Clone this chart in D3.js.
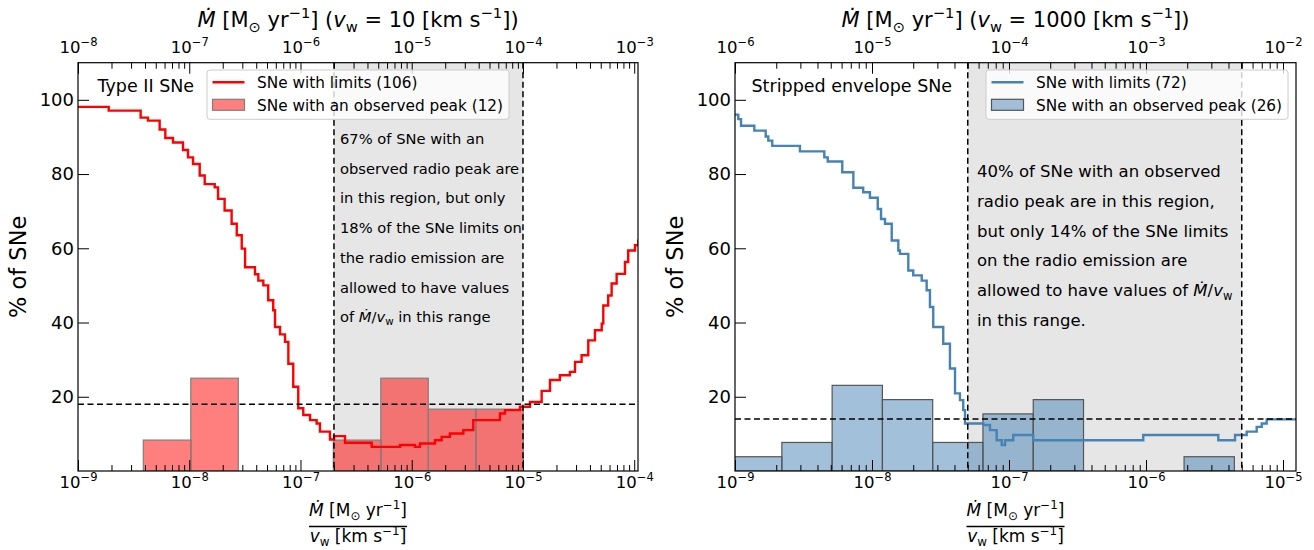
<!DOCTYPE html>
<html>
<head>
<meta charset="utf-8">
<script src="https://cdn.jsdelivr.net/npm/d3@7"></script>
<style>
  body { margin: 0; background: #fff; }
  svg { display: block; font-family: "DejaVu Sans", sans-serif; }
</style>
</head>
<body>
<svg id="chart" width="1314" height="550"></svg>
<script>
// Type II SNe: cumulative % of limits vs log10(Mdot/vw)
const typeIILimitsLogX = [-9.0, -8.724, -8.437, -8.371, -8.266, -8.215, -8.146, -8.056, -8.011, -7.966, -7.906, -7.861, -7.771, -7.741, -7.682, -7.619, -7.573, -7.528, -7.498, -7.409, -7.379, -7.334, -7.29, -7.245, -7.229, -7.184, -7.139, -7.109, -7.065, -7.02, -6.975, -6.914, -6.855, -6.825, -6.735, -6.698, -6.6, -6.36, -6.105, -5.971, -5.926, -5.791, -5.731, -5.657, -5.536, -5.447, -5.207, -5.162, -5.027, -4.937, -4.832, -4.757, -4.668, -4.578, -4.532, -4.473, -4.413, -4.353, -4.292, -4.278, -4.234, -4.203, -4.158, -4.083, -4.054, -3.993, -3.963]
const typeIILimitsPct = [98.1, 97.1, 95.2, 94.4, 92.0, 89.7, 88.5, 86.5, 84.5, 82.7, 79.6, 77.3, 76.4, 73.3, 70.2, 66.6, 63.5, 59.9, 54.9, 53.0, 51.3, 50.0, 46.0, 43.3, 38.8, 36.8, 34.8, 28.9, 22.7, 16.9, 15.1, 13.7, 12.8, 10.6, 8.5, 9.4, 7.6, 6.5, 7.0, 6.5, 7.4, 8.3, 9.2, 10.1, 11.0, 13.7, 15.5, 16.4, 17.3, 18.6, 21.6, 24.5, 25.8, 26.7, 29.4, 31.2, 35.2, 37.9, 39.7, 44.6, 47.3, 50.5, 53.1, 56.3, 59.4, 60.8, 62.4]
// Type II SNe with an observed peak: histogram (log10 bin edges, counts)
const typeIIPeakEdges = [-8.413, -7.986, -7.559, -7.132, -6.705, -6.278, -5.851, -5.424, -4.997]
const typeIIPeakCounts = [1, 3, 0, 0, 1, 3, 2, 2]
const typeIIPeakTotal = 12

// Stripped envelope SNe
const seLimitsLogX = [-9.0, -8.976, -8.956, -8.859, -8.776, -8.757, -8.728, -8.526, -8.348, -8.323, -8.217, -8.136, -8.064, -8.015, -7.958, -7.934, -7.905, -7.856, -7.808, -7.796, -7.735, -7.699, -7.637, -7.601, -7.577, -7.553, -7.48, -7.431, -7.394, -7.358, -7.334, -7.321, -7.188, -7.139, -7.09, -7.053, -7.029, -6.969, -6.823, -6.02, -5.472, -5.35, -5.265, -5.192, -5.155, -5.119, -4.905]
const seLimitsPct = [96.0, 94.8, 93.0, 91.7, 90.1, 89.0, 87.6, 86.1, 84.5, 83.4, 80.5, 76.3, 75.1, 73.6, 70.6, 67.9, 66.6, 62.1, 59.4, 58.5, 54.0, 52.7, 51.3, 48.7, 44.2, 38.8, 34.3, 27.6, 20.9, 19.1, 16.4, 12.8, 12.4, 11.0, 8.3, 7.0, 8.3, 9.7, 8.3, 9.7, 8.3, 9.7, 10.6, 11.9, 12.8, 13.9, 13.9]
const sePeakEdges = [-9.025, -8.658, -8.291, -7.924, -7.557, -7.19, -6.823, -6.456, -6.089, -5.722, -5.355]
const sePeakCounts = [1, 2, 6, 5, 2, 4, 5, 0, 0, 1]
const sePeakTotal = 26

const svg = d3.select("#chart")
const TOP = 62.7, BOTTOM = 471

// text with italic / super / subscript pieces
const richText = (sel, segs, size) => {
  let cur = 0
  segs.forEach(s => {
    const target = s.k === "sup" ? -0.42 * size : s.k === "sub" ? 0.22 * size : 0
    const ts = sel.append("tspan").text(s.t).attr("dy", target - cur)
    cur = target
    if (s.k === "sup" || s.k === "sub") ts.attr("font-size", size * 0.7)
    if (s.i) ts.attr("font-style", "italic")
  })
}

const powLabel = (sel, v, size, yOff) => {
  const e = Math.round(Math.log10(v))
  sel.text(null).attr("dy", null).attr("y", yOff)
  richText(sel, [{t: "10"}, {t: "\u2212" + Math.abs(e), k: "sup"}], size)
}

const drawPanel = p => {
  const x = d3.scaleLog().domain([1e-9, p.xMax]).range([p.left, p.right])
  const xTop = d3.scaleLog().domain([1e-9 * p.factor, p.xMax * p.factor]).range([p.left, p.right])
  const y = d3.scaleLinear().domain([0, 110]).range([BOTTOM, TOP])
  const g = svg.append("g")

  g.append("clipPath").attr("id", "clip" + p.id)
    .append("rect").attr("x", p.left).attr("y", TOP)
    .attr("width", p.right - p.left).attr("height", BOTTOM - TOP)
  const plot = g.append("g").attr("clip-path", `url(#clip${p.id})`)

  // highlighted range
  plot.append("rect")
    .attr("x", x(p.band[0])).attr("width", x(p.band[1]) - x(p.band[0]))
    .attr("y", TOP).attr("height", BOTTOM - TOP)
    .attr("fill", "gray").attr("fill-opacity", 0.2)

  // histogram of observed peaks
  const bins = p.counts.map((c, i) => ({x0: p.edges[i], x1: p.edges[i + 1], pct: c / p.total * 100}))
    .filter(b => b.pct > 0)
  plot.selectAll(".bar").data(bins).enter().append("rect")
    .attr("x", d => x(10 ** d.x0))
    .attr("width", d => x(10 ** d.x1) - x(10 ** d.x0))
    .attr("y", d => y(d.pct))
    .attr("height", d => y(0) - y(d.pct))
    .attr("fill", p.color).attr("fill-opacity", 0.5)
    .attr("stroke", p.barEdge).attr("stroke-width", 1.2)

  // cumulative limits curve
  const pts = p.curveX.map((v, i) => [v, p.curveY[i]])
  const line = d3.line().x(d => x(10 ** d[0])).y(d => y(d[1])).curve(d3.curveStepAfter)
  plot.append("path").datum(pts).attr("d", line)
    .attr("fill", "none").attr("stroke", p.color).attr("stroke-width", 2.4)

  // dashed reference lines
  const dash = "6,3.5"
  p.band.forEach(v => {
    plot.append("line").attr("x1", x(v)).attr("x2", x(v)).attr("y1", TOP).attr("y2", BOTTOM)
      .attr("stroke", "#000").attr("stroke-width", 1.5).attr("stroke-dasharray", dash)
  })
  plot.append("line").attr("x1", p.left).attr("x2", p.right).attr("y1", y(p.hline)).attr("y2", y(p.hline))
    .attr("stroke", "#000").attr("stroke-width", 1.5).attr("stroke-dasharray", dash)

  // ticks
  const majorB = [], minorB = [], majorT = [], minorT = []
  for (let e = -10; e <= 0; e++) {
    for (let m = 1; m < 10; m++) {
      const v = m * 10 ** e
      const [lo, hi] = x.domain()
      if (v >= lo * 0.999 && v <= hi) (m === 1 ? majorB : minorB).push(v)
      const [tlo, thi] = xTop.domain()
      if (v >= tlo * 0.999 && v <= thi) (m === 1 ? majorT : minorT).push(v)
    }
  }
  const tickFont = 16.5
  const bAxis = g.append("g").attr("transform", `translate(0,${BOTTOM})`)
    .call(d3.axisBottom(x).tickValues(majorB).tickSize(-11).tickPadding(5))
  bAxis.selectAll(".tick text").each(function(d) { powLabel(d3.select(this), d, tickFont, 16.5) })
  g.append("g").attr("transform", `translate(0,${BOTTOM})`)
    .call(d3.axisBottom(x).tickValues(minorB).tickSize(-6).tickFormat(""))
  const tAxis = g.append("g").attr("transform", `translate(0,${TOP})`)
    .call(d3.axisTop(xTop).tickValues(majorT).tickSize(-11).tickPadding(10))
  tAxis.selectAll(".tick text").each(function(d) { powLabel(d3.select(this), d, tickFont, -9.5) })
  g.append("g").attr("transform", `translate(0,${TOP})`)
    .call(d3.axisTop(xTop).tickValues(minorT).tickSize(-6).tickFormat(""))
  g.append("g").attr("transform", `translate(${p.left},0)`)
    .call(d3.axisLeft(y).tickValues([20, 40, 60, 80, 100]).tickSize(-11).tickPadding(4))
    .selectAll(".tick text").attr("font-size", 18)
  g.selectAll(".domain").remove()
  g.selectAll(".tick line").attr("stroke", "#000").attr("stroke-width", 1)
  g.selectAll(".tick text").attr("fill", "#000").attr("font-family", "DejaVu Sans")
  bAxis.selectAll(".tick text").attr("font-size", tickFont)
  tAxis.selectAll(".tick text").attr("font-size", tickFont)

  // frame
  g.append("rect").attr("x", p.left).attr("y", TOP)
    .attr("width", p.right - p.left).attr("height", BOTTOM - TOP)
    .attr("fill", "none").attr("stroke", "#000").attr("stroke-width", 1.2)

  const cx = (p.left + p.right) / 2

  // top title
  const tt = g.append("text").attr("x", cx).attr("y", 27).attr("text-anchor", "middle").attr("font-size", 21)
  richText(tt, [{t: "\u1E40", i: true}, {t: " [M"}, {t: "\u2299", k: "sub"}, {t: " yr"}, {t: "\u22121", k: "sup"},
    {t: "] ("}, {t: "v", i: true}, {t: "w", k: "sub"}, {t: " = " + p.vw + " [km s"}, {t: "\u22121", k: "sup"}, {t: "])"}], 21)

  // bottom fraction label
  const num = g.append("text").attr("x", cx).attr("y", 516).attr("text-anchor", "middle").attr("font-size", 17)
  richText(num, [{t: "\u1E40", i: true}, {t: " [M"}, {t: "\u2299", k: "sub"}, {t: " yr"}, {t: "\u22121", k: "sup"}, {t: "]"}], 17)
  const den = g.append("text").attr("x", cx).attr("y", 542).attr("text-anchor", "middle").attr("font-size", 17)
  richText(den, [{t: "v", i: true}, {t: "w", k: "sub"}, {t: " [km s"}, {t: "\u22121", k: "sup"}, {t: "]"}], 17)
  const nb = num.node().getBBox(), db = den.node().getBBox()
  const fw = Math.max(nb.width, db.width)
  g.append("line").attr("x1", cx - fw / 2).attr("x2", cx + fw / 2).attr("y1", 526.5).attr("y2", 526.5)
    .attr("stroke", "#000").attr("stroke-width", 1.3)

  // y label
  g.append("text").attr("transform", `translate(${p.left - 52},${(TOP + BOTTOM) / 2}) rotate(-90)`)
    .attr("text-anchor", "middle").attr("font-size", 22.5).text("% of SNe")

  // panel title
  g.append("text").attr("x", p.left + p.titleDx).attr("y", 91.5).attr("font-size", 17.5).text(p.title)

  // annotation
  p.note.forEach((ln, i) => {
    const t = g.append("text").attr("x", p.noteX).attr("y", p.noteY + i * 29.7).attr("font-size", p.noteSize)
    richText(t, ln, p.noteSize)
  })

  // legend
  const lg = g.append("g").attr("transform", `translate(${p.legX},70)`)
  lg.append("rect").attr("width", 302).attr("height", 49.3).attr("rx", 3)
    .attr("fill", "#fff").attr("fill-opacity", 0.8).attr("stroke", "#cccccc").attr("stroke-width", 1)
  lg.append("line").attr("x1", 5.5).attr("x2", 37.5).attr("y1", 12.3).attr("y2", 12.3)
    .attr("stroke", p.color).attr("stroke-width", 2.4)
  lg.append("rect").attr("x", 5.5).attr("y", 29.3).attr("width", 32).attr("height", 11)
    .attr("fill", p.color).attr("fill-opacity", 0.5).attr("stroke", p.barEdge).attr("stroke-width", 1.2)
  lg.append("text").attr("x", 50).attr("y", 17.5).attr("font-size", 15.3).text(p.legLimits)
  lg.append("text").attr("x", 50).attr("y", 40.5).attr("font-size", 15.3).text(p.legPeak)
}

const mdv = [{t: "\u1E40", i: true}, {t: "/"}, {t: "v", i: true}, {t: "w", k: "sub"}]

drawPanel({
  id: "L", left: 78, right: 638, xMax: 10 ** -3.966, factor: 10, vw: 10,
  band: [2e-7, 1e-5], hline: 18, color: "#ff0000", barEdge: "#7f7f7f",
  curveX: typeIILimitsLogX, curveY: typeIILimitsPct,
  edges: typeIIPeakEdges, counts: typeIIPeakCounts, total: typeIIPeakTotal,
  title: "Type II SNe", titleDx: 19.5, legX: 207,
  legLimits: "SNe with limits (106)", legPeak: "SNe with an observed peak (12)",
  noteX: 340, noteY: 144, noteSize: 14.7,
  note: [[{t: "67% of SNe with an"}], [{t: "observed radio peak are"}], [{t: "in this region, but only"}],
    [{t: "18% of the SNe limits on"}], [{t: "the radio emission are"}], [{t: "allowed to have values"}],
    [{t: "of "}].concat(mdv, [{t: " in this range"}])]
})

drawPanel({
  id: "R", left: 735, right: 1296, xMax: 10 ** -4.905, factor: 1000, vw: 1000,
  band: [5e-8, 5e-6], hline: 14, color: "#4682b4", barEdge: "#555555",
  curveX: seLimitsLogX, curveY: seLimitsPct,
  edges: sePeakEdges, counts: sePeakCounts, total: sePeakTotal,
  title: "Stripped envelope SNe", titleDx: 16.5, legX: 986,
  legLimits: "SNe with limits (72)", legPeak: "SNe with an observed peak (26)",
  noteX: 977, noteY: 177.3, noteSize: 16.5,
  note: [[{t: "40% of SNe with an observed"}], [{t: "radio peak are in this region,"}], [{t: "but only 14% of the SNe limits"}],
    [{t: "on the radio emission are"}], [{t: "allowed to have values of "}].concat(mdv), [{t: "in this range."}]]
})
</script>
</body>
</html>
